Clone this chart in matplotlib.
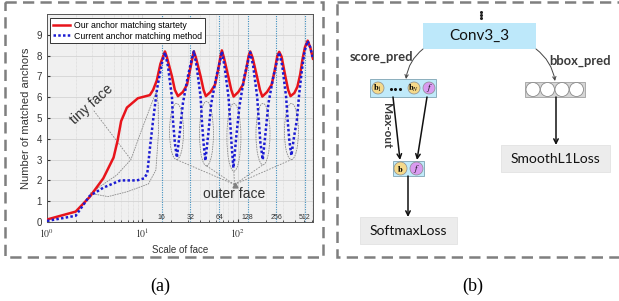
import numpy as np
import matplotlib
matplotlib.use('Agg')
import matplotlib.pyplot as plt
from matplotlib.patches import Rectangle, Circle, Ellipse, FancyArrowPatch

plt.rcParams['font.family'] = ['Liberation Sans', 'DejaVu Sans']
plt.rcParams['mathtext.fontset'] = 'stix'

# ---- (a) number of matched anchors vs scale of face ----
red_x = [1, 2, 2.8, 3.9, 5, 5.5, 6, 6.9, 9, 12, 13, 14.2, 15.5, 17.3,
         18.2, 20.5, 22, 23.7, 26.7, 29.5, 31.7, 34, 34.8,
         36.6, 41, 44, 46.5, 52, 58, 62.5, 66.5, 68.5,
         72, 80, 86, 91, 102, 114, 123, 131, 136,
         144, 160, 172, 182, 204, 228, 246, 262, 274,
         290, 318, 340, 360, 395, 425, 455, 480, 510, 545, 580, 605, 620]
red_y = [0.12, 0.5, 1.2, 2.1, 3.1, 3.9, 4.85, 5.5, 5.95, 6.1, 6.35, 6.8, 7.6, 8.2,
         7.9, 7.0, 6.35, 6.05, 6.25, 6.6, 7.3, 8.0, 8.2,
         7.9, 7.0, 6.35, 6.05, 6.25, 6.6, 7.3, 8.0, 8.25,
         7.9, 7.0, 6.35, 6.03, 6.25, 6.6, 7.3, 8.0, 8.2,
         7.9, 7.0, 6.35, 6.03, 6.25, 6.6, 7.3, 8.0, 8.18,
         7.95, 7.0, 6.35, 6.05, 6.2, 6.5, 7.1, 7.8, 8.4, 8.72, 8.4, 8.05, 7.85]

blue_x = [1, 2, 2.8, 3.9, 5.9, 8.8, 10.5, 11.3, 12, 13, 14.3, 16,
          17.3, 18.6, 20.5, 21, 22, 23.1, 24.9, 26.7, 30.1, 33, 34.8,
          37.2, 41, 42.2, 44, 46, 49.5, 53, 60, 66, 68.5,
          73, 80.5, 83.5, 87, 90.5, 97, 105, 118, 130, 136,
          146, 161, 167, 174, 184, 197, 211, 238, 262, 274,
          295, 324, 336, 350, 368, 392, 420, 445, 474, 505, 545, 580, 605, 620]
blue_y = [0.05, 0.3, 1.25, 1.65, 2.0, 2.0, 2.1, 2.35, 3.5, 4.9, 6.4, 7.6,
          8.15, 7.5, 6.0, 4.9, 3.8, 3.1, 4.4, 5.7, 7.0, 7.8, 8.2,
          7.5, 6.0, 4.9, 3.8, 2.95, 4.3, 5.7, 7.0, 7.8, 8.2,
          7.5, 6.0, 4.9, 3.6, 2.6, 4.1, 5.6, 7.0, 7.8, 8.15,
          7.5, 6.0, 4.9, 3.8, 3.0, 4.3, 5.7, 7.0, 7.8, 8.15,
          7.5, 6.0, 4.9, 3.9, 3.2, 4.1, 4.9, 6.2, 7.3, 8.2, 8.7, 8.4, 8.05, 7.85]

legend_labels = ['Our anchor matching startety', 'Current anchor matching method']
scale_marks = [16, 32, 64, 128, 256, 512]

# annotation shapes (data coordinates)
dip_x = [22.9, 47.2, 91.6, 185, 368]
dip_top = [5.7, 5.8, 5.7, 5.7, 5.7]
dip_bottom = [3.0, 2.7, 2.45, 2.75, 3.0]
outer_hub = (93, 1.8)
tiny_text = (2.97, 5.67)
tiny_hub = (7.6, 3.0)
loop_a_x = [2.84, 5.41, 7.6, 9.55, 12.2, 14.0]
loop_a_y = [1.38, 2.26, 3.0, 4.26, 5.55, 6.27]
loop_b_x = [2.84, 4.36, 7.0, 11.6, 13.9, 14.8, 14.7, 14.0]
loop_b_y = [1.38, 1.22, 1.46, 1.83, 2.5, 4.26, 5.7, 6.27]

fig = plt.figure(figsize=(6.19, 3.01), dpi=100)

# background layer in pixel coordinates
bg = fig.add_axes([0, 0, 1, 1])
bg.set_xlim(0, 619)
bg.set_ylim(301, 0)
bg.axis('off')

frame_kw = dict(fill=False, edgecolor='#7f7f7f', lw=1.8, linestyle=(0, (4.5, 2.5)))
bg.add_patch(Rectangle((5, 2), 318, 255, **frame_kw))
bg.add_patch(Rectangle((337, 2), 300, 255, clip_on=False, **frame_kw))

# ---- chart ----
ax = fig.add_axes([47/619, 79/301, 266/619, 208/301])
ax.set_facecolor('#f0f0f0')
ax.set_xscale('log')
ax.set_xlim(1, 620)
ax.set_ylim(0, 10)
ax.set_yticks(range(10))
ax.set_xticks([1, 10, 100])
ax.set_xticklabels([r'$10^0$', r'$10^1$', r'$10^2$'])
ax.grid(which='major', color='#d4d4d4', lw=0.6)
ax.grid(which='minor', axis='x', color='#d4d4d4', lw=0.5, ls=(0, (1, 1)))
ax.set_axisbelow(True)
ax.tick_params(which='both', direction='in', labelsize=7, colors='#333333', length=2.5)
ax.tick_params(which='minor', length=1.5)
for s in ax.spines.values():
    s.set_color('#555555')
    s.set_linewidth(0.7)
ax.set_xlabel('Scale of face', fontsize=7, color='#333333', labelpad=3)
ax.set_ylabel('Number of matched anchors', fontsize=8, color='#333333', labelpad=4)

for m in scale_marks:
    ax.axvline(m, color='#3f8fbf', lw=0.8, ls=(0, (1, 1.2)), zorder=1)
    ax.text(m, 0.22, str(m), fontsize=5, ha='center', va='center', color='#333333')

ax.plot(red_x, red_y, color='#e8141b', lw=1.8, label=legend_labels[0], zorder=4)
ax.plot(blue_x, blue_y, color='#1c1cd2', lw=1.8, ls=(0, (1, 0.9)),
        label=legend_labels[1], zorder=5)

# annotations
gray = '#8a8a8a'
for cx, top, bot in zip(dip_x, dip_top, dip_bottom):
    pc = ax.transAxes.inverted().transform(ax.transData.transform((cx, (top + bot) / 2)))
    ax.add_patch(Ellipse(pc, 14/266, (top - bot) / 10, transform=ax.transAxes,
                         fill=False, edgecolor=gray, lw=0.6, ls=(0, (2, 1)), zorder=3))
    ax.plot([outer_hub[0], cx], [outer_hub[1], bot], color=gray, lw=0.6,
            ls=(0, (2, 1.5)), zorder=3)
ax.plot(*outer_hub, marker='^', ms=3.5, color='#808080', zorder=3)
ax.text(outer_hub[0], 1.35, 'outer face', fontsize=10, ha='center', va='center',
        color='#333333')
ax.text(*tiny_text, 'tiny face', fontsize=10, rotation=42, ha='center', va='center',
        color='#333333')
ax.plot([3.1, tiny_hub[0]], [5.35, tiny_hub[1]], color=gray, lw=0.6, ls=(0, (2, 1.5)), zorder=3)
ax.plot(loop_a_x, loop_a_y, color=gray, lw=0.6, ls=(0, (2, 1)), zorder=3)
ax.plot(loop_b_x, loop_b_y, color=gray, lw=0.6, ls=(0, (2, 1)), zorder=3)

leg = ax.legend(loc='upper left', bbox_to_anchor=(0.011, 0.98), borderaxespad=0,
                fontsize=6.3, fancybox=False, framealpha=1, edgecolor='#333333',
                borderpad=0.3, handlelength=2.0, handletextpad=0.5, labelspacing=0.2)
leg.get_frame().set_linewidth(0.7)

# ---- (b) diagram ----
dfont = ['Lato', 'DejaVu Sans']
txt = '#3a3a3a'
cyan = '#c0eafa'
yellow = '#f5d98a'
purple = '#d99bf0'

bg.plot([481, 481, 481], [12, 15, 18], 'o', ms=1.2, color='#222222')
bg.add_patch(Rectangle((423, 23), 113, 26, facecolor='#bde8fa', edgecolor='none'))
bg.text(479.5, 36, 'Conv3_3', fontsize=11, ha='center', va='center', family=dfont, color='#111111')

bg.text(381.5, 57, 'score_pred', fontsize=9.3, fontweight='bold', ha='center', va='center',
        family=dfont, color=txt)
bg.text(580, 61, 'bbox_pred', fontsize=9.3, fontweight='bold', ha='center', va='center',
        family=dfont, color=txt)

arrow_kw = dict(arrowstyle='->', mutation_scale=6, lw=0.7, color='#444444',
                shrinkA=0, shrinkB=0)
bg.add_patch(FancyArrowPatch((423, 49), (406, 79), connectionstyle='arc3,rad=0.2', **arrow_kw))
bg.add_patch(FancyArrowPatch((536, 49), (555, 81), connectionstyle='arc3,rad=-0.2', **arrow_kw))

# score box
bg.add_patch(Rectangle((370, 79), 66, 18, facecolor=cyan, edgecolor='#7fa3b3', lw=0.6))
for cx, lab, col in [(378, r'$\mathbf{b}_1$', yellow), (414, r'$\mathbf{b}_N$', yellow),
                     (429, r'$f$', purple)]:
    bg.add_patch(Circle((cx, 88), 6, facecolor=col, edgecolor='#8c8c8c', lw=0.5))
    bg.text(cx, 88.5, lab, fontsize=6, ha='center', va='center')
bg.plot([390.5, 395, 399.5], [89, 89, 89], 'o', ms=1.2, color='#111111')

# bbox box
bg.add_patch(Rectangle((525, 82), 60, 15, facecolor='#d6d6d6', edgecolor='#a0a0a0', lw=0.6))
for cx in [533, 547.5, 562, 576.5]:
    bg.add_patch(Circle((cx, 89.5), 7, facecolor='white', edgecolor='#8a8a8a', lw=0.6))

sarrow = dict(arrowstyle='->', mutation_scale=8, lw=1.1, color='#111111')
bg.add_patch(FancyArrowPatch((393, 97), (400, 160), shrinkA=0, shrinkB=0, **sarrow))
bg.add_patch(FancyArrowPatch((427, 97), (417, 160), shrinkA=0, shrinkB=0, **sarrow))
bg.text(386, 126, 'Max-out', fontsize=8.5, fontweight='bold', rotation=-90, ha='center',
        va='center', family=dfont, color=txt)

# max-out result
bg.add_patch(Rectangle((393, 161), 31, 15, facecolor=cyan, edgecolor='#7fa3b3', lw=0.6))
for cx, lab, col in [(400.5, r'$\mathbf{b}$', yellow), (416.5, r'$f$', purple)]:
    bg.add_patch(Circle((cx, 168.5), 6.5, facecolor=col, edgecolor='#8c8c8c', lw=0.5))
    bg.text(cx, 169, lab, fontsize=6, ha='center', va='center')

bg.add_patch(FancyArrowPatch((408, 176), (408, 217), shrinkA=0, shrinkB=0, **sarrow))
bg.add_patch(Rectangle((360, 217), 97, 27, facecolor='#ececec', edgecolor='#e2e2e2', lw=0.6))
bg.text(408.5, 231, 'SoftmaxLoss', fontsize=10, ha='center', va='center', family=dfont, color='#111111')

bg.add_patch(FancyArrowPatch((556, 97), (556, 145), shrinkA=0, shrinkB=0, **sarrow))
bg.add_patch(Rectangle((501, 145), 109, 27, facecolor='#ececec', edgecolor='#e2e2e2', lw=0.6))
bg.text(555.5, 159, 'SmoothL1Loss', fontsize=10, ha='center', va='center', family=dfont, color='#111111')

# captions
bg.text(160, 286, '(a)', fontsize=13, ha='center', va='center', family='Liberation Serif')
bg.text(473, 286, '(b)', fontsize=13, ha='center', va='center', family='Liberation Serif')

fig.savefig('out.png', dpi=100)
